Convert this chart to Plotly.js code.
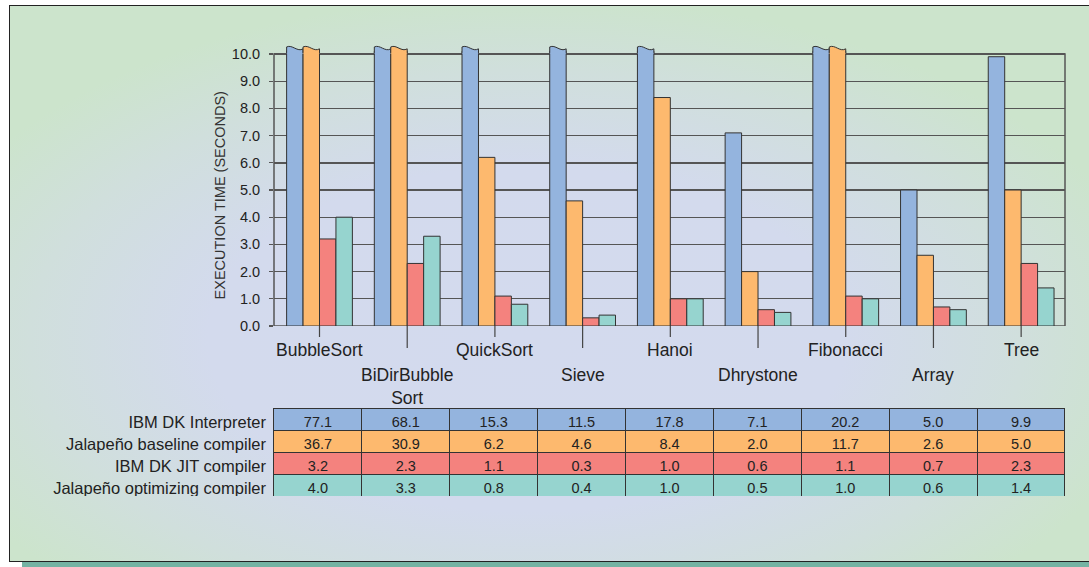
<!DOCTYPE html>
<html>
<head>
<meta charset="utf-8">
<script src="https://cdn.plot.ly/plotly-3.0.1.min.js"></script>
<style>
  html, body { margin:0; padding:0; background:#ffffff; width:1089px; height:567px; overflow:hidden; }
  #frame { position:absolute; left:9px; top:5px; width:1100px; height:555px;
    border-top:1.5px solid #222; border-left:1.5px solid #222; border-bottom:1.5px solid #222;
    background: radial-gradient(ellipse 58% 62% at 47% 60%, #d3daee 0%, #d3daed 50%, #d0dfdc 78%, #cce4cc 100%); }
  #shadow { position:absolute; left:22px; top:562px; width:1100px; height:6px; background:#74b3a3; }
  #chart { position:absolute; left:0; top:0; width:1089px; height:567px; }
</style>
</head>
<body>
<div id="shadow"></div>
<div id="frame"></div>
<div id="chart"></div>
<script>
const categories = ['BubbleSort','BiDirBubble Sort','QuickSort','Sieve','Hanoi','Dhrystone','Fibonacci','Array','Tree'];
const categoryLabels = ['BubbleSort','BiDirBubble<br>Sort','QuickSort','Sieve','Hanoi','Dhrystone','Fibonacci','Array','Tree'];
const seriesNames = ['IBM DK Interpreter','Jalapeño baseline compiler','IBM DK JIT compiler','Jalapeño optimizing compiler'];
const interpreter = [77.1, 68.1, 15.3, 11.5, 17.8, 7.1, 20.2, 5.0, 9.9];
const baseline    = [36.7, 30.9, 6.2, 4.6, 8.4, 2.0, 11.7, 2.6, 5.0];
const jit         = [3.2, 2.3, 1.1, 0.3, 1.0, 0.6, 1.1, 0.7, 2.3];
const optimizing  = [4.0, 3.3, 0.8, 0.4, 1.0, 0.5, 1.0, 0.6, 1.4];
const yTicks = [0,1,2,3,4,5,6,7,8,9,10];

const series = [interpreter, baseline, jit, optimizing];
const colors = ['#94b4de','#fdb96e','#f4827e','#96d4cf'];
const AXIS_MAX = 10;
const CLIP = 10.1;
const BARGAP = 0.25;
const nS = series.length;
const bw = (1 - BARGAP) / nS;
const FONT = 'Liberation Sans, Arial, sans-serif';
const transparent = 'rgba(0,0,0,0)';

const traces = series.map((vals, k) => ({
  type: 'bar',
  name: seriesNames[k],
  x: categories,
  y: vals.map(v => Math.min(v, CLIP)),
  marker: { color: colors[k], line: { color: '#333', width: 1 } },
  hoverinfo: 'skip',
  xaxis: 'x', yaxis: 'y'
}));

// table: first series row used as the header row, the other rows as cells
const columns = [seriesNames].concat(categories.map((c, i) => series.map(s => s[i].toFixed(1))));
const lineCols = [transparent].concat(categories.map(() => '#333'));
const alignCols = ['right'].concat(categories.map(() => 'center'));
const sizeCols = [16.5].concat(categories.map(() => 14.5));
traces.push({
  type: 'table',
  domain: { x: [0, 1], y: [0, 0.1947] },
  columnwidth: [254].concat(categories.map(() => 87.9)),
  header: {
    values: columns.map(col => [col[0]]),
    height: 22,
    fill: { color: [transparent].concat(categories.map(() => colors[0])) },
    line: { color: lineCols, width: 1 },
    align: alignCols,
    font: { family: FONT, size: sizeCols, color: '#222' }
  },
  cells: {
    values: columns.map(col => col.slice(1)),
    height: 22,
    fill: { color: [seriesNames.slice(1).map(() => transparent)].concat(categories.map(() => colors.slice(1))) },
    line: { color: lineCols, width: 1 },
    align: alignCols,
    font: { family: FONT, size: sizeCols, color: '#222' }
  }
});

const yDomBottom = (497 - 326) / 457;
const shapes = [];
shapes.push({ type: 'rect', layer: 'below', xref: 'x domain', yref: 'y', x0: 0, x1: 1, y0: 0, y1: AXIS_MAX,
  line: { color: '#555', width: 1.5 }, fillcolor: transparent });
series.forEach((vals, k) => {
  vals.forEach((v, i) => {
    if (v > CLIP) {
      const x0 = i - (1 - BARGAP) / 2 + k * bw;
      const x1 = x0 + bw;
      const w = x1 - x0;
      const curve = `L${x0},10.26 C${x0 + 0.35 * w},10.36 ${x0 + 0.65 * w},10.06 ${x1},10.19`;
      shapes.push({ type: 'path', layer: 'above', xref: 'x', yref: 'y',
        path: `M${x0},10.02 ${curve} L${x1},10.02 Z`, fillcolor: colors[k], line: { width: 0 } });
      shapes.push({ type: 'path', layer: 'above', xref: 'x', yref: 'y',
        path: `M${x0},10.04 ${curve} L${x1},10.04`, fillcolor: transparent, line: { color: '#333', width: 1 } });
    }
  });
});
categories.forEach((c, i) => {
  const len = (i % 2 === 0 ? 11 : 22) / 457;
  shapes.push({ type: 'line', xref: 'x', yref: 'paper', x0: c, x1: c,
    y0: yDomBottom, y1: yDomBottom - len, line: { color: '#444', width: 1.2 } });
});

const annotations = categories.map((c, i) => ({
  xref: 'x', yref: 'y', x: c, y: 0, yanchor: 'top', xanchor: 'center',
  yshift: i % 2 === 0 ? -12 : -37, showarrow: false, text: categoryLabels[i],
  font: { family: FONT, size: 17.5, color: '#222' }
}));
annotations.push({
  xref: 'paper', yref: 'y', x: (220 - 20) / 1045, y: 4.8, xanchor: 'center', yanchor: 'middle',
  textangle: -90, showarrow: false, text: 'EXECUTION TIME (SECONDS)',
  font: { family: FONT, size: 14.5, color: '#333' }
});

const layout = {
  width: 1089, height: 567,
  margin: { l: 20, r: 24, t: 40, b: 70, pad: 0 },
  paper_bgcolor: transparent, plot_bgcolor: transparent,
  showlegend: false,
  barmode: 'group', bargap: BARGAP, bargroupgap: 0,
  font: { family: FONT, color: '#222' },
  xaxis: { domain: [(274 - 20) / 1045, 1], type: 'category', showticklabels: false, ticks: '',
    showgrid: false, zeroline: false, showline: false, fixedrange: true },
  yaxis: { domain: [yDomBottom, 1], range: [0, 10.515], tickvals: yTicks,
    ticktext: yTicks.map(v => v.toFixed(1)), ticks: 'outside', ticklen: 4, tickcolor: '#555', tickwidth: 1.2,
    ticklabelstandoff: 6,
    showgrid: true, gridcolor: '#555', gridwidth: 1.4, zeroline: false, showline: false,
    tickfont: { size: 14.5, color: '#222' }, fixedrange: true },
  shapes: shapes,
  annotations: annotations
};

Plotly.newPlot('chart', traces, layout, { displayModeBar: false, staticPlot: true });
</script>
</body>
</html>
